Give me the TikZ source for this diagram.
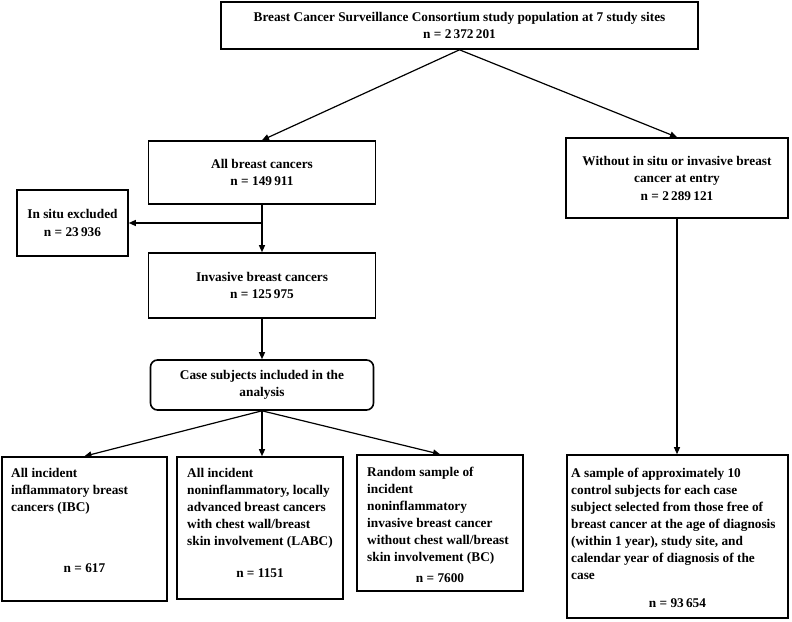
\documentclass[tikz,border=0pt]{standalone}
\usepackage{fontspec}
\setmainfont{Liberation Serif}
\usetikzlibrary{arrows.meta,calc}
\begin{document}
\begin{tikzpicture}[x=1pt,y=-1pt,
  box/.style={draw, line width=1.6pt, inner sep=0pt, align=center,
    font=\bfseries\fontsize{13.3}{17.5}\selectfont},
  conn/.style={line width=1.2pt, -{Triangle[length=7pt,width=6pt]}},
  plain/.style={line width=1.2pt},
  txt/.style={font=\bfseries\fontsize{13.3}{17}\selectfont, inner sep=0pt},
]
\useasboundingbox (0,0) rectangle (792,621);
% boxes
\node[box, minimum width=477pt, minimum height=47pt] (top) at (459.5,25.5)
  {Breast Cancer Surveillance Consortium study population at 7 study sites\\n = 2\,372\,201};
\node[box, minimum width=227pt, minimum height=63pt] (all) at (262,172.5)
  {All breast cancers\\n = 149\,911};
\node[box, minimum width=111pt, minimum height=66pt] (insitu) at (72.5,223)
  {In situ excluded\\n = 23\,936};
\node[box, minimum width=227pt, minimum height=65pt] (inv) at (262,285.5)
  {Invasive breast cancers\\n = 125\,975};
\node[box, rounded corners=7pt, minimum width=223pt, minimum height=50pt] (case) at (262,385)
  {Case subjects included in the\\analysis};
\node[box, minimum width=222pt, minimum height=80pt] (without) at (677,178)
  {Without in situ or invasive breast\\cancer at entry\\n = 2\,289\,121};
\node[box, minimum width=165pt, minimum height=144pt] (ibc) at (84.5,529) {};
\node[box, minimum width=166pt, minimum height=142pt] (labc) at (260,528) {};
\node[box, minimum width=166pt, minimum height=136pt] (bc) at (440,523) {};
\node[box, minimum width=221pt, minimum height=163pt] (ctrl) at (677.5,536.5) {};
% texts of the lower boxes
\node[txt, anchor=north west, align=left] (ibct) at (11,468)
  {All incident\\inflammatory breast\\cancers (IBC)};
\node[txt, anchor=base] (ibcn) at (84.5,572) {n = 617};
\node[txt, anchor=north west, align=left] (labct) at (187,468)
  {All incident\\noninflammatory, locally\\advanced breast cancers\\with chest wall/breast\\skin involvement (LABC)};
\node[txt, anchor=base] (labcn) at (260,577) {n = 1151};
\node[txt, anchor=north west, align=left] (bct) at (367,467)
  {Random sample of\\incident\\noninflammatory\\invasive breast cancer\\without chest wall/breast\\skin involvement (BC)};
\node[txt, anchor=base] (bcn) at (440,582) {n = 7600};
\node[txt, anchor=north west, align=left] (ctrlt) at (571,468)
  {A sample of approximately 10\\control subjects for each case\\subject selected from those free of\\breast cancer at the age of diagnosis\\(within 1 year), study site, and\\calendar year of diagnosis of the\\case};
\node[txt, anchor=base] (ctrln) at (677.5,607) {n = 93\,654};
% connectors
\draw[conn] (top.south) -- (all.north);
\draw[conn] (top.south) -- (without.north);
\draw[conn] (all.south) -- (inv.north);
\draw[conn] (all.south |- insitu.east) -- (insitu.east);
\draw[conn] (inv.south) -- (case.north);
\draw[conn] (case.south) -- (ibc.north);
\draw[conn] (case.south) -- (case.south |- labc.north);
\draw[conn] (case.south) -- (bc.north);
\draw[conn] (without.south) -- (without.south |- ctrl.north);
\end{tikzpicture}
\end{document}
